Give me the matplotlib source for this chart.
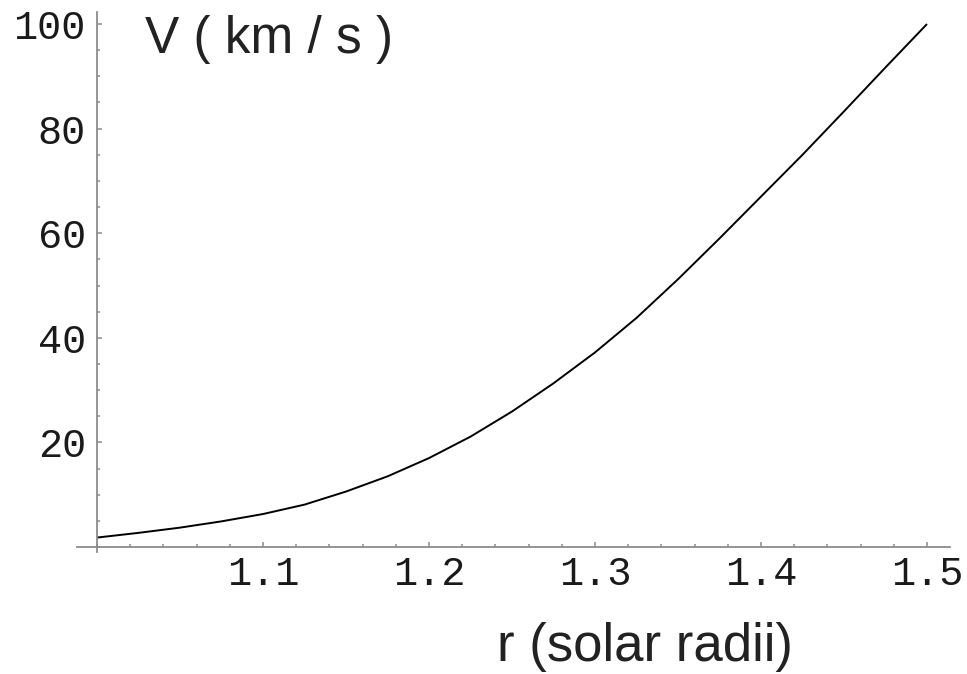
import numpy as np
import matplotlib
matplotlib.use("Agg")
import matplotlib.pyplot as plt
from matplotlib.ticker import FixedLocator, MultipleLocator

# heliocentric distance (solar radii) and outflow speed (km/s)
R_SOLAR = [1.000, 1.025, 1.050, 1.075, 1.100, 1.125, 1.150, 1.175, 1.200,
           1.225, 1.250, 1.275, 1.300, 1.325, 1.350, 1.375, 1.400, 1.425,
           1.450, 1.475, 1.500]
V_KMS = [1.8, 2.7, 3.7, 4.9, 6.3, 8.1, 10.6, 13.5, 17.0,
         21.1, 25.9, 31.3, 37.2, 43.8, 51.2, 59.0, 67.0, 75.0,
         83.3, 91.7, 100.0]

X_TICKS = [1.1, 1.2, 1.3, 1.4, 1.5]
X_LABELS = ["1.1", "1.2", "1.3", "1.4", "1.5"]
Y_TICKS = [20, 40, 60, 80, 100]
Y_LABELS = ["20", "40", "60", "80", "100"]

W, H = 967, 674
AXIS_GRAY = "#8c8c8c"
MONO = ["Liberation Mono", "DejaVu Sans Mono"]
SANS = ["Liberation Sans", "DejaVu Sans"]

fig = plt.figure(figsize=(W / 100, H / 100), dpi=100)
ax = fig.add_axes([77 / W, 1 - 552 / H, (950 - 77) / W, (552 - 12) / H])

ax.plot(R_SOLAR, V_KMS, color="black", linewidth=1.4,
        solid_joinstyle="round", solid_capstyle="butt")

ax.set_xlim(0.98795, 1.51386)
ax.set_ylim(-0.96, 102.3)

# axes cross at (1, 0), Mathematica style
for side in ("top", "right"):
    ax.spines[side].set_visible(False)
ax.spines["left"].set_position(("data", 1.0))
ax.spines["bottom"].set_position(("data", 0.0))
for side in ("left", "bottom"):
    ax.spines[side].set_color(AXIS_GRAY)
    ax.spines[side].set_linewidth(1.3)

ax.xaxis.set_major_locator(FixedLocator(X_TICKS))
ax.xaxis.set_minor_locator(MultipleLocator(0.02))
ax.set_xticklabels(X_LABELS)
ax.yaxis.set_major_locator(FixedLocator(Y_TICKS))
ax.yaxis.set_minor_locator(MultipleLocator(5))
ax.set_yticklabels(Y_LABELS)

ax.tick_params(which="both", direction="in", color=AXIS_GRAY, width=1.1)
ax.tick_params(which="major", length=3.6)
ax.tick_params(which="minor", length=2.2)
ax.tick_params(axis="x", which="major", pad=6)
ax.tick_params(axis="y", which="major", pad=8)
for lbl in ax.get_xticklabels() + ax.get_yticklabels():
    lbl.set_family(MONO)
    lbl.set_fontsize(29)
    lbl.set_color("#1a1a1a")

fig.text(145 / W, 1 - 53 / H, "V ( km / s )", family=SANS, fontsize=37,
         color="#222222", va="baseline", ha="left")
fig.text(497 / W, 1 - 661 / H, "r (solar radii)", family=SANS, fontsize=38,
         color="#222222", va="baseline", ha="left")

fig.savefig("out.png", dpi=100)
